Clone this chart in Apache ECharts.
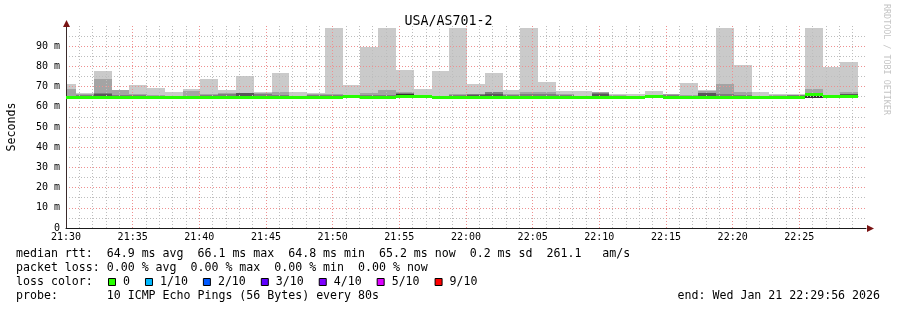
<!DOCTYPE html>
<html><head><meta charset="utf-8">
<script src="https://cdn.jsdelivr.net/npm/echarts@6/dist/echarts.min.js"></script>
<style>html,body{margin:0;padding:0;background:#fff}#c{width:897px;height:310px}</style>
</head><body><div id="c"></div>
<script>
// ---------------- data ----------------
const chartTitle = 'USA/AS701-2';
const axisStart = '21:30:00';
const stepSeconds = 80;
const stepEnds = ['21:30:45','21:32:05','21:33:25','21:34:45','21:36:05','21:37:25','21:38:45','21:40:05','21:41:25','21:42:45',
  '21:44:05','21:45:25','21:46:45','21:48:05','21:49:25','21:50:45','21:52:05','21:53:25','21:54:45','21:56:05',
  '21:57:25','21:58:45','22:00:05','22:01:25','22:02:45','22:04:05','22:05:25','22:06:45','22:08:05','22:09:25',
  '22:10:45','22:12:05','22:13:25','22:14:45','22:16:05','22:17:25','22:18:45','22:20:05','22:21:25','22:22:45',
  '22:24:05','22:25:25','22:26:45','22:28:05','22:29:25'];
// median rtt (ms)
const medianRtt = [64.8,64.8,65.0,64.8,64.9,64.8,64.8,64.8,64.8,64.8, 65.0,64.8,64.8,64.8,64.8,64.8,65.2,64.8,64.8,65.3,
  65.1,64.8,64.8,65.0,64.8,64.8,64.8,64.8,64.8,64.8, 64.8,64.8,64.8,65.2,64.8,64.8,65.0,64.8,64.8,64.8,
  64.8,64.8,66.1,65.3,65.2];
// sorted ping rtts (ms): p10 = slowest ... pLow = p1..p5
const ping10 = [71.3,66.9,77.9,68.4,70.9,69.5,67.4,68.9,74.0,68.4, 75.3,67.4,76.8,67.5,66.9,99,70.9,89.8,99,78.3,
  69.0,77.9,99,71.4,76.8,68.4,99,72.4,67.9,67.9, 67.4,66.4,66.4,67.9,66.4,71.9,68.4,99,80.8,67.4,
  66.4,66.4,99,79.8,82.2];
const ping9 = [68.9,66.2,74.0,68.4,66.4,65.6,65.4,67.9,66.1,66.8, 67.0,66.6,67.3,65.4,66.4,66.4,65.8,67.0,68.4,67.2,
  65.8,65.5,66.4,66.2,67.2,66.4,67.4,67.4,66.1,65.4, 67.4,65.9,65.4,65.8,66.4,65.9,67.9,71.3,67.4,65.4,
  65.9,65.9,68.9,65.7,67.4];
const ping8 = [65.3,66.0,66.9,66.0,65.6,65.3,65.2,65.4,65.8,66.2, 67.0,66.4,65.6,65.2,65.6,65.8,65.6,65.6,65.8,66.6,
  65.6,65.3,65.6,66.1,67.2,65.6,66.4,66.1,65.6,65.2, 66.8,65.5,65.2,65.6,65.6,65.5,67.0,66.2,65.6,65.2,
  65.5,65.9,66.9,65.6,66.4];
const ping7 = [65.0,65.2,66.5,65.4,65.2,65.1,65.0,65.1,65.2,65.3, 66.8,65.3,65.2,65.0,65.2,65.2,65.4,65.2,65.3,66.3,
  65.4,65.1,65.2,66.0,66.5,65.2,65.4,65.4,65.2,65.0, 66.1,65.2,65.0,65.4,65.2,65.2,66.6,65.5,65.2,65.0,
  65.2,65.3,66.7,65.5,66.4];
const ping6 = [64.9,65.0,65.2,65.0,65.0,64.9,64.9,64.9,64.9,65.0, 65.3,65.0,65.0,64.9,64.9,64.9,65.3,65.0,65.0,66.3,
  65.2,64.9,65.0,65.3,65.2,64.9,65.0,65.0,64.9,64.9, 65.2,64.9,64.9,65.3,64.9,64.9,65.4,65.0,64.9,64.9,
  64.9,64.9,66.5,65.4,65.6];
const pingLow = [64.5,64.5,64.5,64.5,64.5,64.5,64.5,64.5,64.5,64.5, 64.5,64.5,64.5,64.5,64.5,64.5,64.5,64.5,64.5,64.4,
  64.5,64.5,64.5,64.5,64.5,64.5,64.5,64.5,64.5,64.5, 64.5,64.5,64.5,64.5,64.5,64.5,64.5,64.5,64.5,64.5,
  64.5,64.5,64.6,64.5,64.5];
const xTickLabels = ['21:30','21:35','21:40','21:45','21:50','21:55','22:00','22:05','22:10','22:15','22:20','22:25'];
const yTickLabels = ['0','10 m','20 m','30 m','40 m','50 m','60 m','70 m','80 m','90 m'];
const statLines = [
  'median rtt:  64.9 ms avg  66.1 ms max  64.8 ms min  65.2 ms now  0.2 ms sd  261.1   am/s',
  'packet loss: 0.00 % avg  0.00 % max  0.00 % min  0.00 % now'
];
const lossTitle = 'loss color:';
const lossLabels = ['0','1/10','2/10','3/10','4/10','5/10','9/10'];
const lossColors = ['#26ff00','#00b8ff','#0059ff','#5e00ff','#7e00ff','#dd00ff','#ff0000'];
const probeLine = 'probe:       10 ICMP Echo Pings (56 Bytes) every 80s';
const endLine = 'end: Wed Jan 21 22:29:56 2026';
const watermark = 'RRDTOOL / TOBI OETIKER';

// ---------------- build ----------------
const FONT = "'DejaVu Sans Mono', monospace";
function toSec(t){const p=t.split(':').map(Number);return p[0]*3600+p[1]*60+p[2];}
const t0 = toSec(axisStart);
const ends = stepEnds.map(t => toSec(t) - t0);
const starts = ends.map(e => e - stepSeconds);

function layerData(lo, hi){ return ends.map((e,i)=>[starts[i], e, lo[i], hi[i]]); }
function rectRender(color){
  return function(params, api){
    const a = api.coord([api.value(0), api.value(2)]);
    const b = api.coord([api.value(1), api.value(3)]);
    const cs = params.coordSys;
    const x0 = Math.round(Math.max(a[0], cs.x)), x1 = Math.round(Math.min(b[0], cs.x + cs.width));
    const yt = Math.round(Math.max(b[1], cs.y)), yb = Math.round(Math.min(a[1], cs.y + cs.height));
    if (x1 <= x0 || yb <= yt) return null;
    return {type:'rect', shape:{x:x0, y:yt, width:x1-x0, height:yb-yt}, style:{fill:color}};
  };
}
// median: fixed-thickness band (3px) centred on the median value
function medianRender(color){
  return function(params, api){
    const a = api.coord([api.value(0), api.value(2)]);
    const b = api.coord([api.value(1), api.value(2)]);
    const cs = params.coordSys;
    const x0 = Math.round(Math.max(a[0], cs.x)), x1 = Math.round(Math.min(b[0], cs.x + cs.width));
    if (x1 <= x0) return null;
    const yc = Math.round(a[1]);
    return {type:'rect', shape:{x:x0, y:yc-1, width:x1-x0, height:3}, style:{fill:color}};
  };
}
const smokeLayers = [
  {hi: ping10, color:'#cacaca'},
  {hi: ping9,  color:'#a4a4a4'},
  {hi: ping8,  color:'#7e7e7e'},
  {hi: ping7,  color:'#585858'},
  {hi: ping6,  color:'#323232'}
];
const seriesList = smokeLayers.map(l => ({
  type:'custom', z:1, silent:true, clip:true,
  renderItem: rectRender(l.color),
  encode:{x:[0,1], y:[2,3]},
  data: layerData(pingLow, l.hi)
}));
seriesList.push({
  type:'custom', z:5, silent:true, clip:true,
  renderItem: medianRender(lossColors[0]),
  encode:{x:[0,1], y:2},
  data: ends.map((e,i)=>[starts[i], e, medianRtt[i]])
});

// legend graphics
const CW = 6.98;
const graphics = [];
function txt(x, y, s, extra){
  graphics.push(Object.assign({type:'text', x:x, y:y, silent:true,
    style:Object.assign({text:s, font:'11.6px ' + FONT, fill:'#000', align:'left', verticalAlign:'middle', textAlign:'left', textVerticalAlign:'middle'}, extra||{})}));
}
txt(16, 254, statLines[0]);
txt(16, 268, statLines[1]);
txt(16, 282, lossTitle);
let sx = 108;
lossLabels.forEach((lab, i) => {
  graphics.push({type:'rect', silent:true, shape:{x:sx+0.5, y:278.5, width:7, height:7}, style:{fill:lossColors[i], stroke:'#000', lineWidth:1}});
  txt(sx + 15, 282, lab);
  sx = sx + 15 + CW * lab.length + 15;
});
txt(16, 296, probeLine);
txt(880, 296, endLine, {align:'right', textAlign:'right'});
graphics.push({type:'text', x:886, y:4, rotation:-Math.PI/2, silent:true,
  style:{text:watermark, font:'8.4px ' + FONT, fill:'#c4c4c4', align:'left', verticalAlign:'middle', textAlign:'left', textVerticalAlign:'middle'}});

const chart = echarts.init(document.getElementById('c'), null, {renderer:'canvas'});
chart.setOption({
  animation:false,
  backgroundColor:'#ffffff',
  title:{text:chartTitle, left:'center', top:10, textStyle:{fontFamily:FONT, fontSize:13.3, fontWeight:'normal', color:'#000'}},
  grid:{left:66, top:26, width:800, height:202, containLabel:false, outerBoundsMode:'none'},
  xAxis:{type:'value', min:0, max:3600, interval:300, z:3,
    axisLine:{show:true, onZero:true, lineStyle:{color:'#1a1a1a', width:1}},
    axisTick:{show:false},
    axisLabel:{fontFamily:FONT, fontSize:10, color:'#000', margin:4, showMaxLabel:false,
      formatter: v => { const k = Math.round(v/300); return (v % 300 === 0 && xTickLabels[k]) ? xTickLabels[k] : ''; }},
    splitLine:{show:true, showMinLine:false, showMaxLine:false, lineStyle:{color:'#ee9090', width:1, type:[1,2]}},
    minorTick:{show:false, splitNumber:5},
    minorSplitLine:{show:true, lineStyle:{color:'#bdbdbd', width:1, type:[1,2]}}
  },
  yAxis:{type:'value', min:0, max:100, interval:10, z:3,
    name:'Seconds', nameLocation:'middle', nameGap:48, nameRotate:90,
    nameTextStyle:{fontFamily:FONT, fontSize:11.6, color:'#000'},
    axisLine:{show:true, lineStyle:{color:'#3a2a2a', width:1}},
    axisTick:{show:false},
    axisLabel:{fontFamily:FONT, fontSize:10, color:'#000', margin:6, showMaxLabel:false,
      formatter: v => { const k = Math.round(v/10); return (v % 10 === 0 && yTickLabels[k]) ? yTickLabels[k] : ''; }},
    splitLine:{show:true, showMinLine:false, showMaxLine:false, lineStyle:{color:'#ee9090', width:1, type:[1,2]}},
    minorTick:{show:false, splitNumber:2},
    minorSplitLine:{show:true, lineStyle:{color:'#bdbdbd', width:1, type:[1,2]}}
  },
  series: seriesList,
  graphic: graphics
});
// axis arrows placed at the axis ends
const pTop = chart.convertToPixel({gridIndex:0}, [0, 100]);
const pRight = chart.convertToPixel({gridIndex:0}, [3600, 0]);
const tx = Math.round(pTop[0]), ty = Math.round(pTop[1]);
const rx = Math.round(pRight[0]), ry = Math.round(pRight[1]);
graphics.push({type:'polygon', silent:true, z:10, shape:{points:[[tx+0.5, ty-6],[tx-3, ty+1],[tx+4, ty+1]]}, style:{fill:'#7a1414'}});
graphics.push({type:'polygon', silent:true, z:10, shape:{points:[[rx+8, ry+0.5],[rx+1, ry-3],[rx+1, ry+4]]}, style:{fill:'#7a1414'}});
chart.setOption({graphic: graphics});
</script>
</body></html>
